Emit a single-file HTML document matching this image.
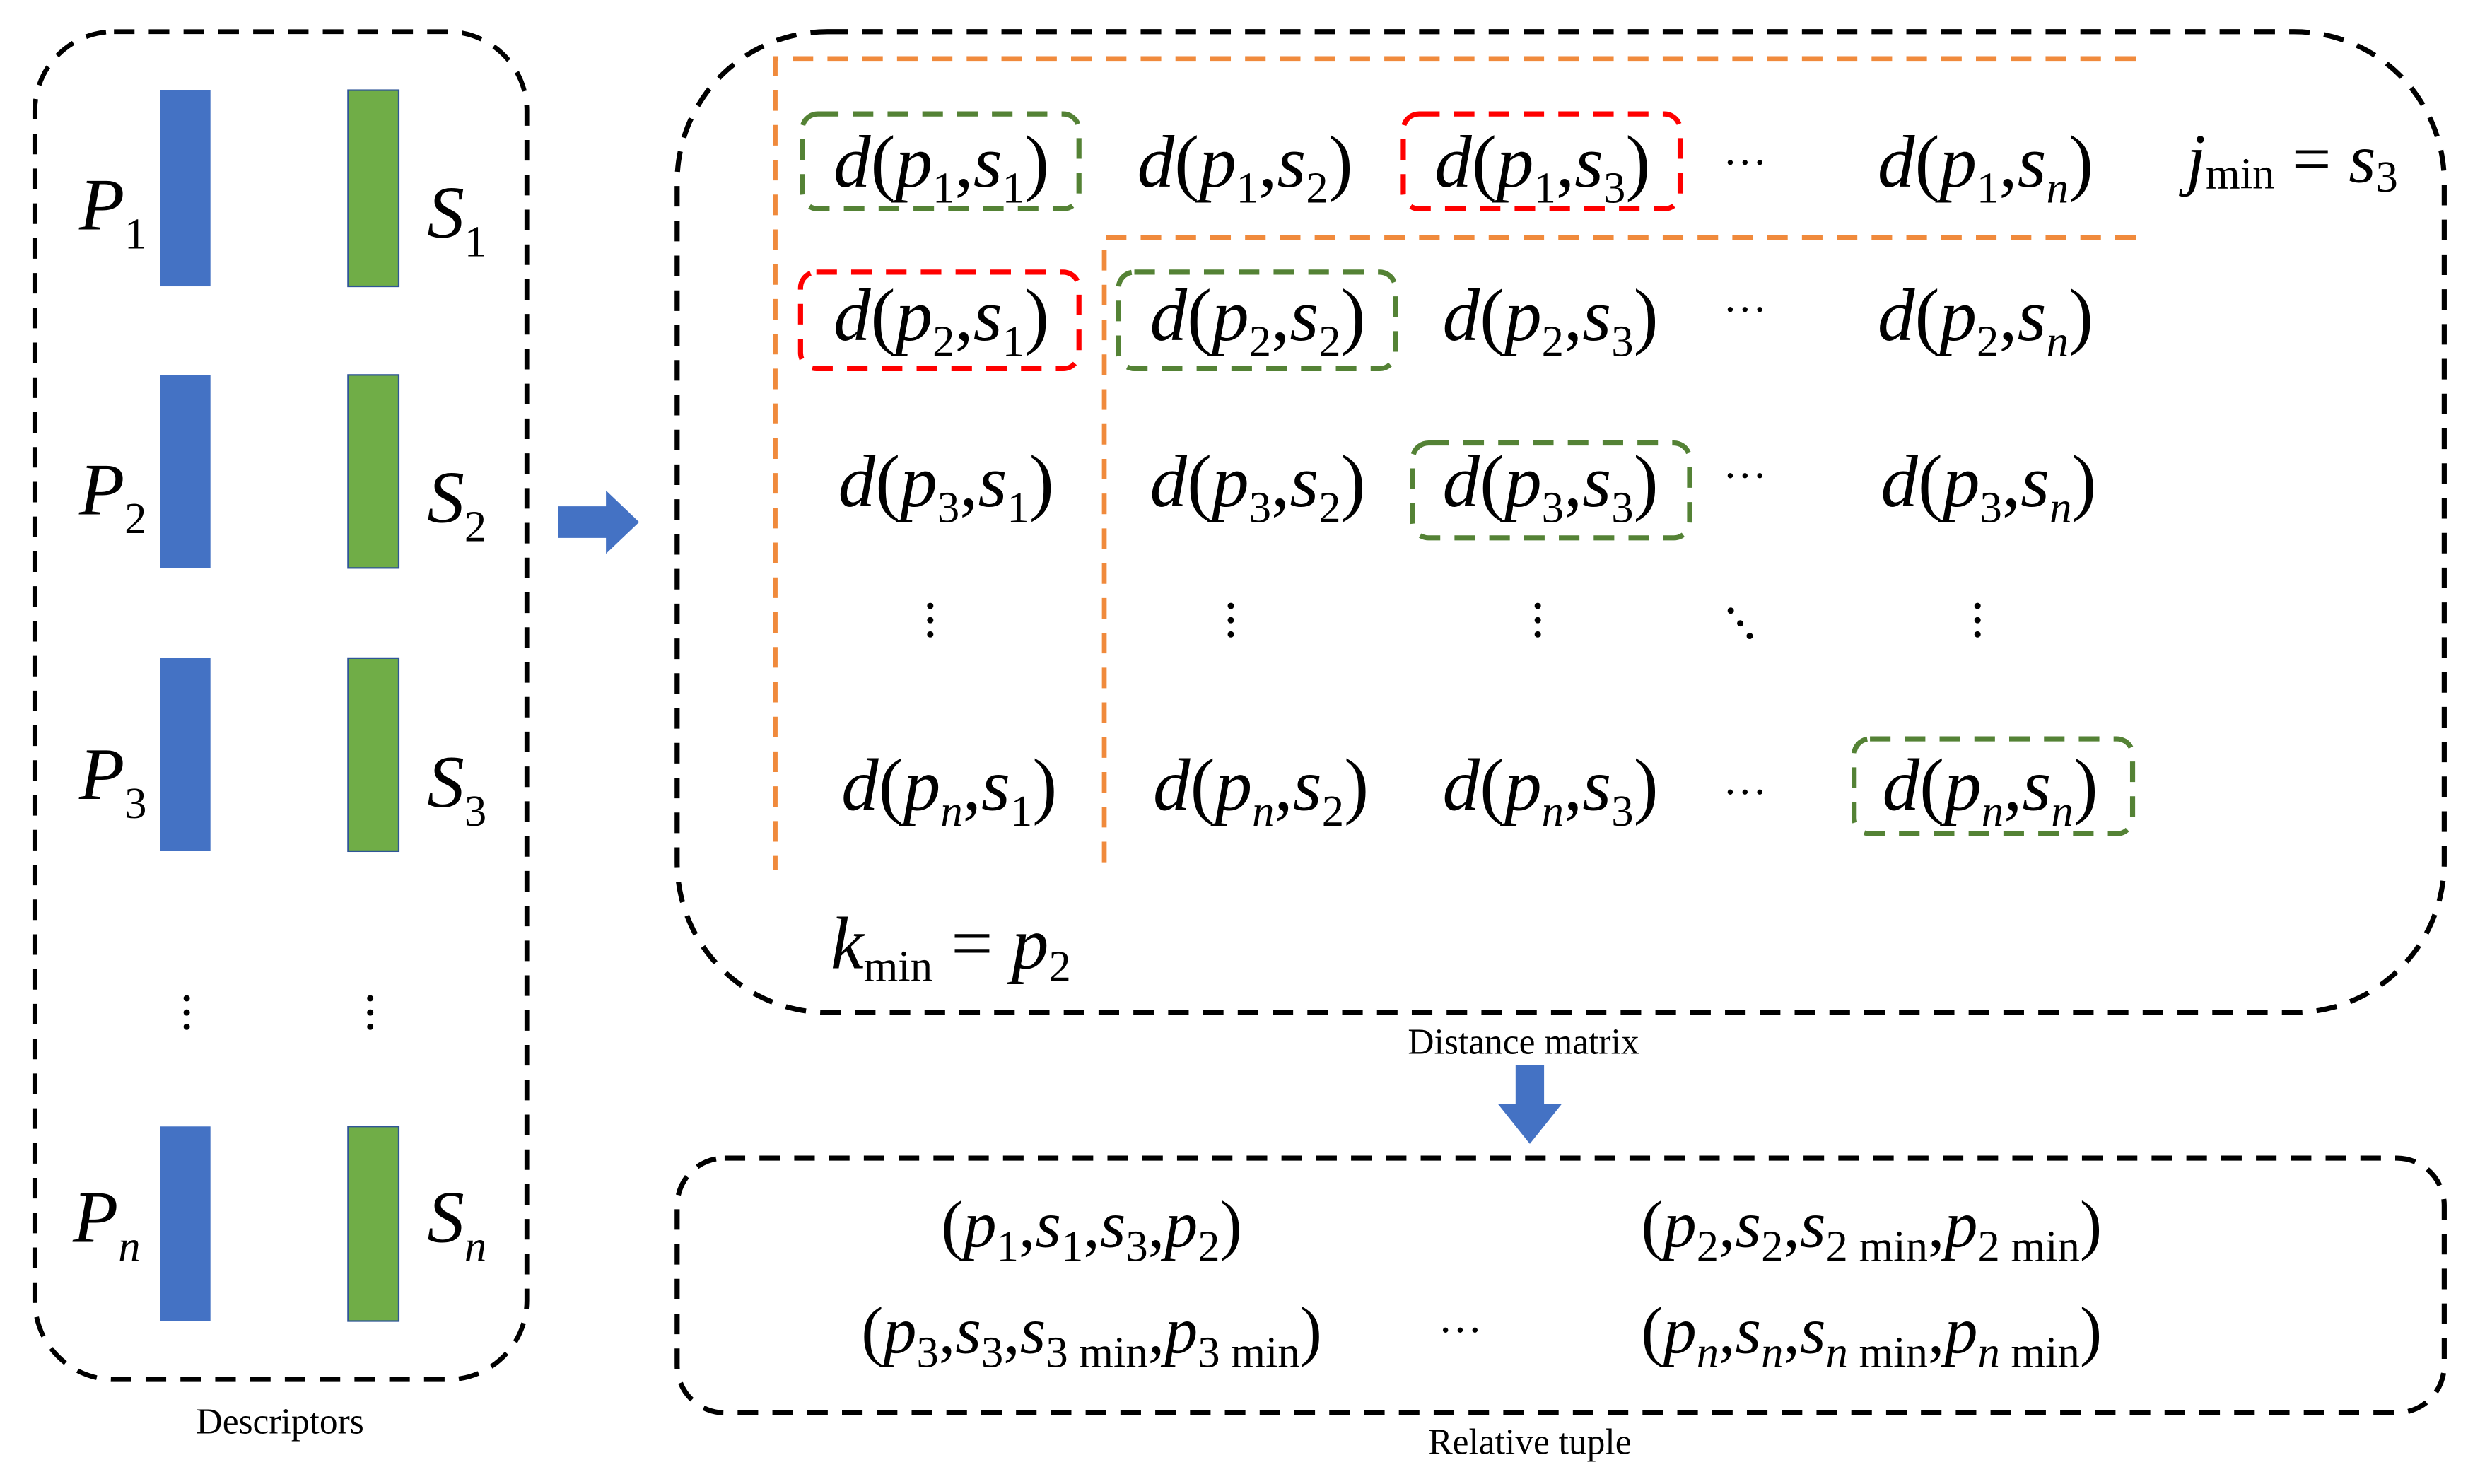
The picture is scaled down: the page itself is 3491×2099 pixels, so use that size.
<!DOCTYPE html>
<html><head><meta charset="utf-8"><style>
html,body{margin:0;padding:0;background:#fff;}
svg{display:block}
.m{font-family:"Liberation Serif","DejaVu Serif",serif;font-size:47px;fill:#000;font-synthesis:none}
.i{font-style:italic}
.s{font-size:28px;font-style:normal}
.si{font-size:28px;font-style:italic}
.cap{font-family:"Liberation Serif",serif;font-size:23px;fill:#000}
</style></head><body>
<svg width="3491" height="2099" viewBox="0 0 1560 938" xmlns="http://www.w3.org/2000/svg">
<rect x="22" y="20" width="311" height="852" rx="50" fill="none" stroke="#000" stroke-width="3" stroke-dasharray="13,9"/>
<g fill="#4472C4">
<rect x="101" y="57" width="32" height="124"/><rect x="101" y="237" width="32" height="122"/>
<rect x="101" y="416" width="32" height="122"/><rect x="101" y="712" width="32" height="123"/>
</g>
<g fill="#70AD47" stroke="#2f5597" stroke-width="1">
<rect x="220" y="57" width="32" height="124"/><rect x="220" y="237" width="32" height="122"/>
<rect x="220" y="416" width="32" height="122"/><rect x="220" y="712" width="32" height="123"/>
</g>
<g class="m">
<text x="50" y="145" class="i">P<tspan class="s" dy="12">1</tspan></text>
<text x="50" y="325" class="i">P<tspan class="s" dy="12">2</tspan></text>
<text x="50" y="505" class="i">P<tspan class="s" dy="12">3</tspan></text>
<text x="46" y="785" class="i">P<tspan class="si" dy="12">n</tspan></text>
<text x="270" y="150" class="i">S<tspan class="s" dy="12">1</tspan></text>
<text x="270" y="330" class="i">S<tspan class="s" dy="12">2</tspan></text>
<text x="270" y="510" class="i">S<tspan class="s" dy="12">3</tspan></text>
<text x="270" y="785" class="i">S<tspan class="si" dy="12">n</tspan></text>
</g>
<g fill="#000"><circle cx="118" cy="631" r="2"/><circle cx="118" cy="640" r="2"/><circle cx="118" cy="649" r="2"/>
<circle cx="234" cy="631" r="2"/><circle cx="234" cy="640" r="2"/><circle cx="234" cy="649" r="2"/></g>
<text x="177" y="906" class="cap" text-anchor="middle">Descriptors</text>
<polygon points="353,320 383,320 383,310 404,330 383,350 383,340 353,340" fill="#4472C4"/>
<rect x="428" y="20" width="1117" height="620" rx="95" fill="none" stroke="#000" stroke-width="3.2" stroke-dasharray="13,9"/>
<g stroke="#F08A3C" stroke-width="3" stroke-dasharray="13,9" fill="none">
<path d="M1350,37 H490 V550"/><path d="M1350,150 H698 V550"/>
</g>
<g fill="none" stroke-width="3.2" stroke-dasharray="13,9">
<rect x="507" y="72" width="175" height="60" rx="10" stroke="#548235"/>
<rect x="887" y="72" width="175" height="60" rx="10" stroke="#ff0000"/>
<rect x="506" y="172" width="176" height="61" rx="10" stroke="#ff0000"/>
<rect x="707" y="172" width="175" height="61" rx="10" stroke="#548235"/>
<rect x="893" y="280" width="175" height="60" rx="10" stroke="#548235"/>
<rect x="1172" y="467" width="176" height="60" rx="10" stroke="#548235"/>
</g>
<g class="m" text-anchor="middle">
<text x="595" y="118"><tspan class="i">d</tspan>(<tspan class="i">p</tspan><tspan class="s" dy="10">1</tspan><tspan dy="-10">,</tspan><tspan class="i">s</tspan><tspan class="s" dy="10">1</tspan><tspan dy="-10">)</tspan></text>
<text x="787" y="118"><tspan class="i">d</tspan>(<tspan class="i">p</tspan><tspan class="s" dy="10">1</tspan><tspan dy="-10">,</tspan><tspan class="i">s</tspan><tspan class="s" dy="10">2</tspan><tspan dy="-10">)</tspan></text>
<text x="975" y="118"><tspan class="i">d</tspan>(<tspan class="i">p</tspan><tspan class="s" dy="10">1</tspan><tspan dy="-10">,</tspan><tspan class="i">s</tspan><tspan class="s" dy="10">3</tspan><tspan dy="-10">)</tspan></text>
<text x="1255" y="118"><tspan class="i">d</tspan>(<tspan class="i">p</tspan><tspan class="s" dy="10">1</tspan><tspan dy="-10">,</tspan><tspan class="i">s</tspan><tspan class="si" dy="10">n</tspan><tspan dy="-10">)</tspan></text>
<text x="595" y="215"><tspan class="i">d</tspan>(<tspan class="i">p</tspan><tspan class="s" dy="10">2</tspan><tspan dy="-10">,</tspan><tspan class="i">s</tspan><tspan class="s" dy="10">1</tspan><tspan dy="-10">)</tspan></text>
<text x="795" y="215"><tspan class="i">d</tspan>(<tspan class="i">p</tspan><tspan class="s" dy="10">2</tspan><tspan dy="-10">,</tspan><tspan class="i">s</tspan><tspan class="s" dy="10">2</tspan><tspan dy="-10">)</tspan></text>
<text x="980" y="215"><tspan class="i">d</tspan>(<tspan class="i">p</tspan><tspan class="s" dy="10">2</tspan><tspan dy="-10">,</tspan><tspan class="i">s</tspan><tspan class="s" dy="10">3</tspan><tspan dy="-10">)</tspan></text>
<text x="1255" y="215"><tspan class="i">d</tspan>(<tspan class="i">p</tspan><tspan class="s" dy="10">2</tspan><tspan dy="-10">,</tspan><tspan class="i">s</tspan><tspan class="si" dy="10">n</tspan><tspan dy="-10">)</tspan></text>
<text x="598" y="320"><tspan class="i">d</tspan>(<tspan class="i">p</tspan><tspan class="s" dy="10">3</tspan><tspan dy="-10">,</tspan><tspan class="i">s</tspan><tspan class="s" dy="10">1</tspan><tspan dy="-10">)</tspan></text>
<text x="795" y="320"><tspan class="i">d</tspan>(<tspan class="i">p</tspan><tspan class="s" dy="10">3</tspan><tspan dy="-10">,</tspan><tspan class="i">s</tspan><tspan class="s" dy="10">2</tspan><tspan dy="-10">)</tspan></text>
<text x="980" y="320"><tspan class="i">d</tspan>(<tspan class="i">p</tspan><tspan class="s" dy="10">3</tspan><tspan dy="-10">,</tspan><tspan class="i">s</tspan><tspan class="s" dy="10">3</tspan><tspan dy="-10">)</tspan></text>
<text x="1257" y="320"><tspan class="i">d</tspan>(<tspan class="i">p</tspan><tspan class="s" dy="10">3</tspan><tspan dy="-10">,</tspan><tspan class="i">s</tspan><tspan class="si" dy="10">n</tspan><tspan dy="-10">)</tspan></text>
<text x="600" y="512"><tspan class="i">d</tspan>(<tspan class="i">p</tspan><tspan class="si" dy="10">n</tspan><tspan dy="-10">,</tspan><tspan class="i">s</tspan><tspan class="s" dy="10">1</tspan><tspan dy="-10">)</tspan></text>
<text x="797" y="512"><tspan class="i">d</tspan>(<tspan class="i">p</tspan><tspan class="si" dy="10">n</tspan><tspan dy="-10">,</tspan><tspan class="i">s</tspan><tspan class="s" dy="10">2</tspan><tspan dy="-10">)</tspan></text>
<text x="980" y="512"><tspan class="i">d</tspan>(<tspan class="i">p</tspan><tspan class="si" dy="10">n</tspan><tspan dy="-10">,</tspan><tspan class="i">s</tspan><tspan class="s" dy="10">3</tspan><tspan dy="-10">)</tspan></text>
<text x="1258" y="512"><tspan class="i">d</tspan>(<tspan class="i">p</tspan><tspan class="si" dy="10">n</tspan><tspan dy="-10">,</tspan><tspan class="i">s</tspan><tspan class="si" dy="10">n</tspan><tspan dy="-10">)</tspan></text>
</g>
<g class="m" text-anchor="middle" style="font-size:28px">
<text x="1103" y="112">···</text><text x="1103" y="205">···</text><text x="1103" y="310">···</text><text x="1103" y="510">···</text>
</g>
<g fill="#000">
<circle cx="588" cy="383" r="2"/><circle cx="588" cy="392" r="2"/><circle cx="588" cy="401" r="2"/>
<circle cx="778" cy="383" r="2"/><circle cx="778" cy="392" r="2"/><circle cx="778" cy="401" r="2"/>
<circle cx="972" cy="383" r="2"/><circle cx="972" cy="392" r="2"/><circle cx="972" cy="401" r="2"/>
<circle cx="1250" cy="383" r="2"/><circle cx="1250" cy="392" r="2"/><circle cx="1250" cy="401" r="2"/>
<circle cx="1094" cy="386" r="2"/><circle cx="1100" cy="394" r="2"/><circle cx="1106" cy="402" r="2"/>
</g>
<text x="1382" y="115" class="m" style="font-size:44px"><tspan class="i">j</tspan><tspan class="s" dy="4">min</tspan><tspan dy="-4"> = </tspan><tspan class="i">s</tspan><tspan class="s" dy="6">3</tspan></text>
<text x="525" y="612" class="m"><tspan class="i">k</tspan><tspan class="s" dy="8">min</tspan><tspan dy="-8"> = </tspan><tspan class="i">p</tspan><tspan class="s" dy="8">2</tspan></text>
<text x="963" y="666" class="cap" text-anchor="middle">Distance matrix</text>
<polygon points="958,673 976,673 976,698 987,698 967,723 947,698 958,698" fill="#4472C4"/>
<rect x="428" y="732" width="1117" height="161" rx="30" fill="none" stroke="#000" stroke-width="3.2" stroke-dasharray="13,9"/>
<g class="m" text-anchor="middle" style="font-size:42px">
<text x="690" y="788">(<tspan class="i">p</tspan><tspan class="s" dy="9">1</tspan><tspan dy="-9">,</tspan><tspan class="i">s</tspan><tspan class="s" dy="9">1</tspan><tspan dy="-9">,</tspan><tspan class="i">s</tspan><tspan class="s" dy="9">3</tspan><tspan dy="-9">,</tspan><tspan class="i">p</tspan><tspan class="s" dy="9">2</tspan><tspan dy="-9">)</tspan></text>
<text x="1183" y="788">(<tspan class="i">p</tspan><tspan class="s" dy="9">2</tspan><tspan dy="-9">,</tspan><tspan class="i">s</tspan><tspan class="s" dy="9">2</tspan><tspan dy="-9">,</tspan><tspan class="i">s</tspan><tspan class="s" dy="9">2 min</tspan><tspan dy="-9">,</tspan><tspan class="i">p</tspan><tspan class="s" dy="9">2 min</tspan><tspan dy="-9">)</tspan></text>
<text x="690" y="855">(<tspan class="i">p</tspan><tspan class="s" dy="9">3</tspan><tspan dy="-9">,</tspan><tspan class="i">s</tspan><tspan class="s" dy="9">3</tspan><tspan dy="-9">,</tspan><tspan class="i">s</tspan><tspan class="s" dy="9">3 min</tspan><tspan dy="-9">,</tspan><tspan class="i">p</tspan><tspan class="s" dy="9">3 min</tspan><tspan dy="-9">)</tspan></text>
<text x="1183" y="855">(<tspan class="i">p</tspan><tspan class="si" dy="9">n</tspan><tspan dy="-9">,</tspan><tspan class="i">s</tspan><tspan class="si" dy="9">n</tspan><tspan dy="-9">,</tspan><tspan class="i">s</tspan><tspan class="si" dy="9">n</tspan><tspan class="s"> min</tspan><tspan dy="-9">,</tspan><tspan class="i">p</tspan><tspan class="si" dy="9">n</tspan><tspan class="s"> min</tspan><tspan dy="-9">)</tspan></text>
<text x="923" y="850" style="font-size:28px">···</text>
</g>
<text x="967" y="919" class="cap" text-anchor="middle">Relative tuple</text>
</svg>
</body></html>
